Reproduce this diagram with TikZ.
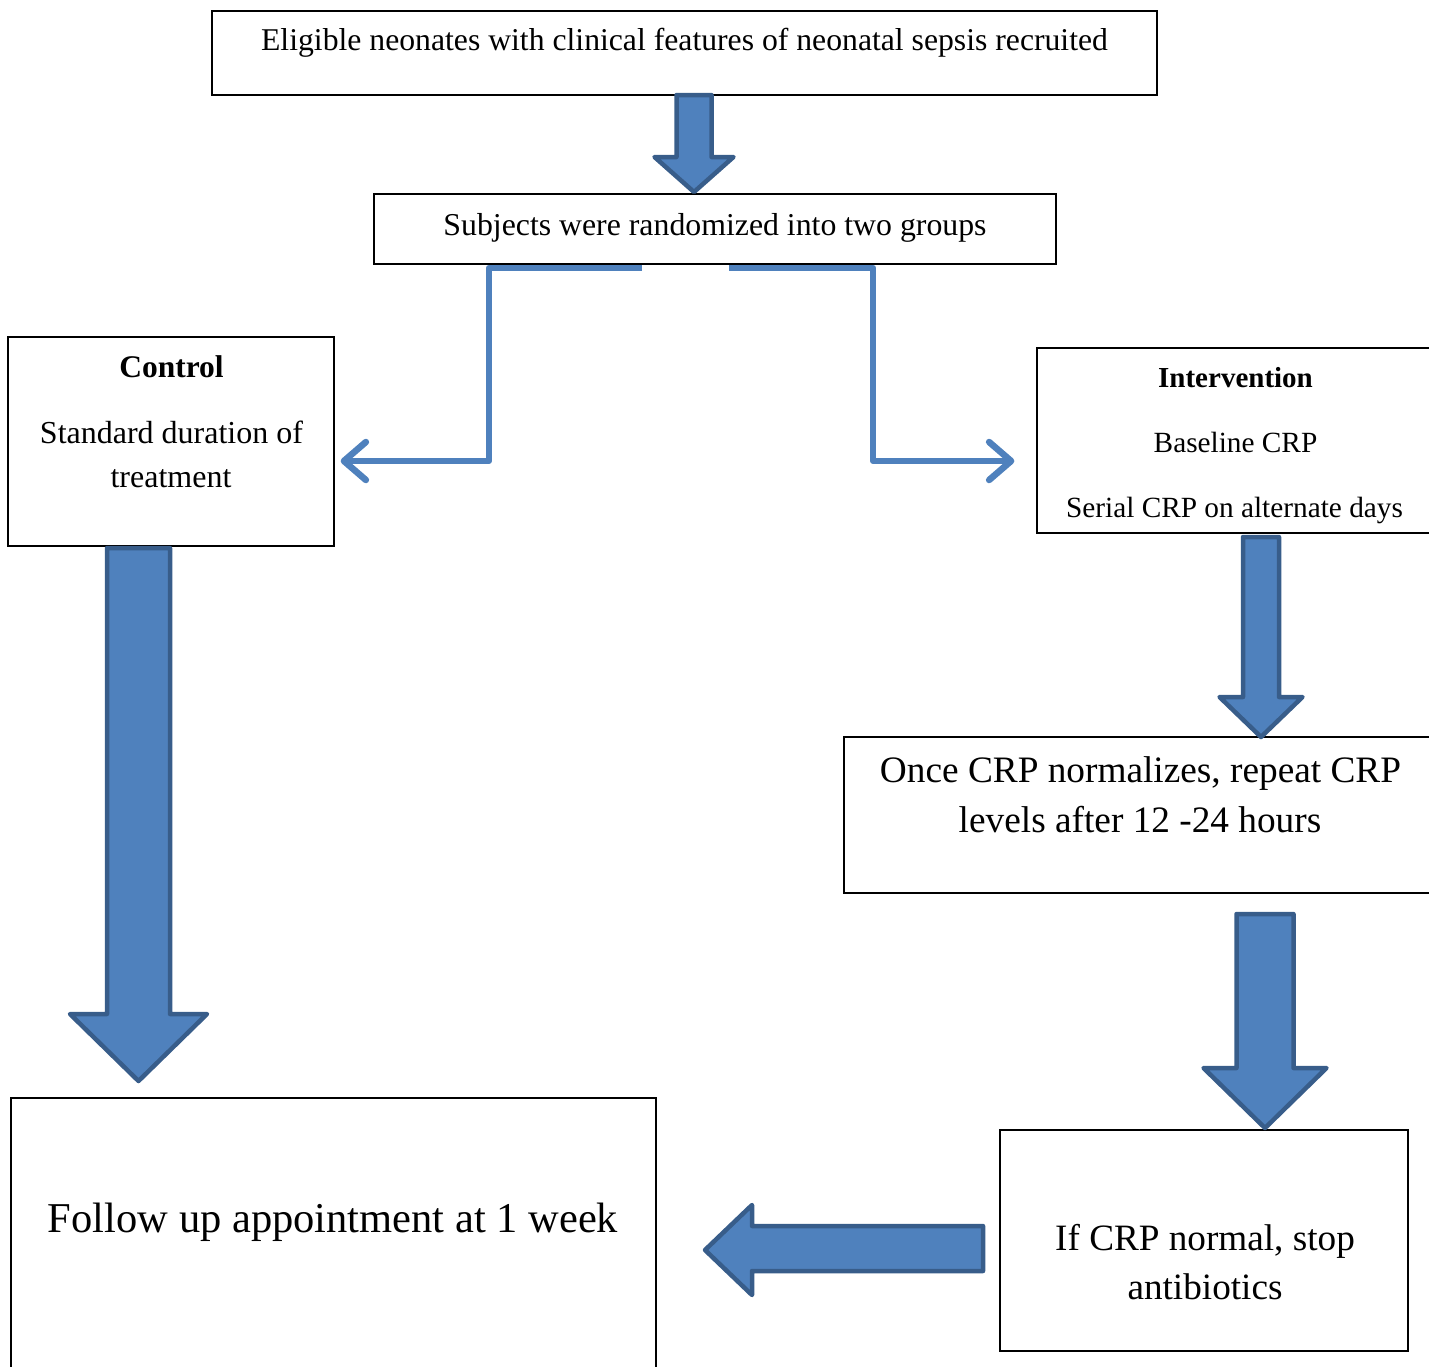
\documentclass[tikz,border=0pt]{standalone}
\usepackage{fontspec}
\setmainfont{Liberation Serif}
\usetikzlibrary{arrows.meta}
\definecolor{linkblue}{RGB}{79,129,189}
\definecolor{blkfill}{RGB}{79,129,189}
\definecolor{blkline}{RGB}{56,93,138}

\tikzset{
  box/.style={draw=black, line width=1.3pt, inner sep=0pt},
  txt/.style={anchor=base, inner sep=0pt},
  blk/.style={fill=blkfill, draw=blkline, line width=4.5pt, line join=round},
  link/.style={draw=linkblue, line width=6pt, line join=round,
    -{Straight Barb[length=22pt,width=38pt,line width=6.5pt,line cap=round,round]}}
}

\begin{document}
\begin{tikzpicture}[x=1pt,y=-1pt]
\useasboundingbox (0,0) rectangle (1429,1366);

% boxes
\node[box, minimum width=945, minimum height=84] (top) at (684.5,53) {};
\node[box, minimum width=682, minimum height=70] (rand) at (715,229) {};
\node[box, minimum width=326, minimum height=209] (ctrl) at (171,441.5) {};
\node[box, minimum width=413, minimum height=185] (intv) at (1243.5,440.5) {};
\node[box, minimum width=606, minimum height=156] (once) at (1147,815) {};
\node[box, minimum width=408, minimum height=221] (stop) at (1204,1240.5) {};
\node[box, minimum width=645, minimum height=282] (follow) at (333.5,1239) {};

% texts
\node[txt, font=\fontsize{31.7}{38}\selectfont] (ttop) at (684.5,50)
  {Eligible neonates with clinical features of neonatal sepsis recruited};
\node[txt, font=\fontsize{31.8}{38}\selectfont] (trand) at (715,235)
  {Subjects were randomized into two groups};
\node[txt, font=\fontsize{31.5}{38}\selectfont\bfseries] (tctrl) at (171.5,377) {Control};
\node[txt, font=\fontsize{32}{38}\selectfont] (tstd) at (171.5,443) {Standard duration of};
\node[txt, font=\fontsize{32}{38}\selectfont] (ttreat) at (171,487) {treatment};
\node[txt, font=\fontsize{29}{35}\selectfont\bfseries] (tintv) at (1235.5,387) {Intervention};
\node[txt, font=\fontsize{29.3}{35}\selectfont] (tbase) at (1235.5,452) {Baseline CRP};
\node[txt, font=\fontsize{29.3}{35}\selectfont] (tserial) at (1234.5,517) {Serial CRP on alternate days};
\node[txt, font=\fontsize{37.3}{45}\selectfont] (tonce) at (1140.5,782) {Once CRP normalizes, repeat CRP};
\node[txt, font=\fontsize{37.3}{45}\selectfont] (tlevel) at (1140,832) {levels after 12 -24 hours};
\node[txt, font=\fontsize{37.2}{45}\selectfont] (tif) at (1205,1250) {If CRP normal, stop};
\node[txt, font=\fontsize{37.2}{45}\selectfont] (tanti) at (1205,1299) {antibiotics};
\node[txt, font=\fontsize{42.5}{50}\selectfont] (tfollow) at (333,1232) {Follow up appointment at 1 week};

% elbow connectors
\coordinate (l0) at ([xshift=-73pt,yshift=-3pt]rand.south);
\coordinate (lturn) at (489,461);
\coordinate (lend) at ([xshift=6pt,yshift=-19.5pt]ctrl.east);
\coordinate (r0) at ([xshift=14pt,yshift=-3pt]rand.south);
\coordinate (rturn) at (873,461);
\coordinate (rend) at ([xshift=-22pt,yshift=-20.5pt]intv.west);
\draw[link] (l0) -| (lturn) -- (lend);
\draw[link] (r0) -| (rturn) -- (rend);

% block arrows
\foreach \cx/\ya/\sw/\hw/\yb/\yc in {694/95/17.5/39.5/157/192,
    138.5/548/31.5/68.5/1014/1081, 1261/537/18/41.5/697/737,
    1265/914/28.5/61.5/1068/1128}
  \draw[blk] (\cx-\sw,\ya) -- (\cx+\sw,\ya) -- (\cx+\sw,\yb) -- (\cx+\hw,\yb)
    -- (\cx,\yc) -- (\cx-\hw,\yb) -- (\cx-\sw,\yb) -- cycle;
\draw[blk] (983,1226) -- (752,1226) -- (752,1205) -- (705,1250) -- (752,1295)
  -- (752,1271) -- (983,1271) -- cycle;
\end{tikzpicture}
\end{document}
